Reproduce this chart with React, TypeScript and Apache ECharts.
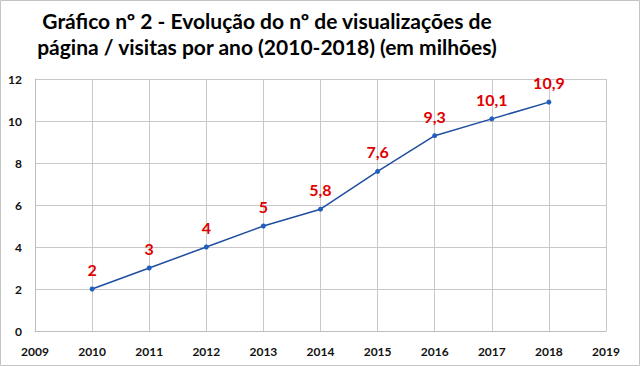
import React, { useEffect, useRef } from "react";
import * as echarts from "echarts";

const titleLines = [
  "Gráfico nº 2 - Evolução do nº de visualizações de",
  "página / visitas por ano (2010-2018) (em milhões)",
];
const years = [2010, 2011, 2012, 2013, 2014, 2015, 2016, 2017, 2018];
const values = [2, 3, 4, 5, 5.8, 7.6, 9.3, 10.1, 10.9];
const xMin = 2009;
const xMax = 2019;
const yMin = 0;
const yMax = 12;
const yStep = 2;

export default function App() {
  const ref = useRef<HTMLDivElement>(null);
  useEffect(() => {
    if (!ref.current) return;
    const chart = echarts.init(ref.current, undefined, { renderer: "svg" });
    const font = "Lato, 'Open Sans', sans-serif";
    chart.setOption({
      animation: false,
      backgroundColor: "#ffffff",
      grid: { left: 35, right: 34, top: 79, bottom: 35, containLabel: false },
      graphic: [
        {
          type: "rect",
          shape: { x: 0.5, y: 0.5, width: 639, height: 365 },
          style: { fill: "none", stroke: "#c4c4c4", lineWidth: 1 },
          silent: true,
        },
        ...titleLines.map((t, i) => ({
          type: "text",
          x: 267,
          y: 20 + i * 26,
          style: {
            text: t,
            fill: "#000",
            font: `bold 21px ${font}`,
            textAlign: "center",
            textVerticalAlign: "middle",
          },
        })),
      ],
      xAxis: {
        type: "value",
        min: xMin,
        max: xMax,
        interval: 1,
        axisLine: { show: true, lineStyle: { color: "#bdbdbd" } },
        axisTick: { show: false },
        splitLine: { show: true, lineStyle: { color: "#c8c8c8" } },
        axisLabel: {
          formatter: (v: number) => String(v),
          color: "#111",
          fontFamily: font,
          fontWeight: "bold",
          fontSize: 12,
          margin: 14,
        },
      },
      yAxis: {
        type: "value",
        min: yMin,
        max: yMax,
        interval: yStep,
        axisLine: { show: true, lineStyle: { color: "#bdbdbd" } },
        axisTick: { show: false },
        splitLine: { show: true, lineStyle: { color: "#c8c8c8" } },
        axisLabel: {
          color: "#111",
          fontFamily: font,
          fontWeight: "bold",
          fontSize: 12,
          margin: 13,
        },
      },
      series: [
        {
          type: "line",
          data: years.map((y, i) => [y, values[i]]),
          lineStyle: { color: "#1f4ea0", width: 1.5 },
          itemStyle: { color: "#1f5fbf" },
          symbol: "circle",
          symbolSize: 5,
          label: {
            show: true,
            position: "top",
            distance: 9,
            color: "#e00000",
            fontFamily: font,
            fontWeight: "bold",
            fontSize: 16,
            formatter: (p: any) => String(p.value[1]).replace(".", ","),
          },
        },
      ],
    });
    return () => chart.dispose();
  }, []);
  return (
    <div
      ref={ref}
      style={{ position: "fixed", left: 0, top: 0, width: 640, height: 366 }}
    />
  );
}
